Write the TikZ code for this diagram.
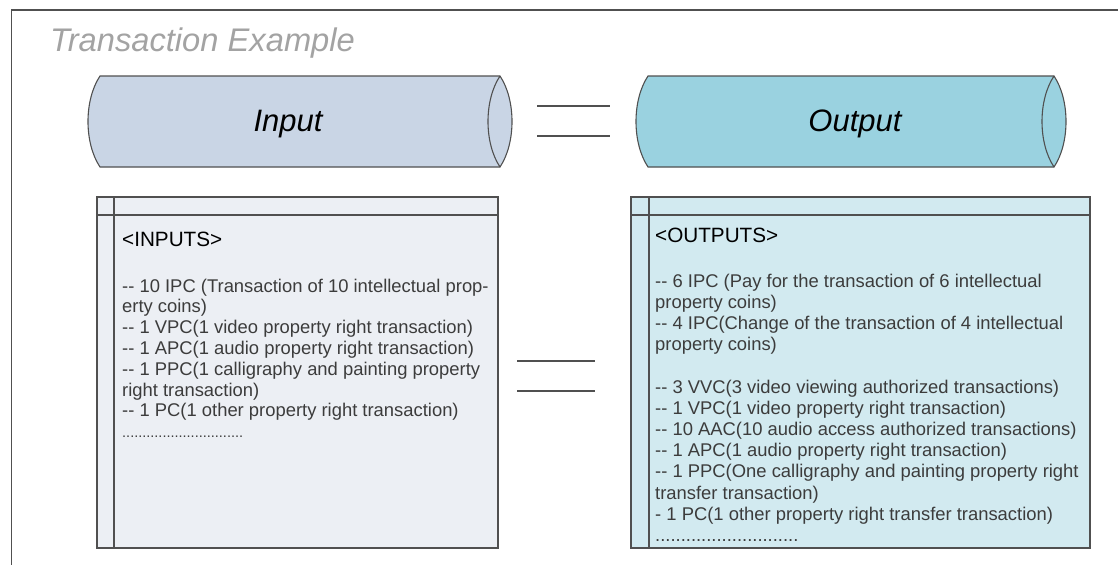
\documentclass[tikz,border=0pt]{standalone}
\usepackage{fontspec}
\setmainfont{Liberation Sans}
\usepackage{xcolor}
\usepackage{tikz}

\definecolor{framegray}{HTML}{505050}
\definecolor{titlegray}{HTML}{A3A3A3}
\definecolor{inpipe}{HTML}{C9D5E5}
\definecolor{outpipe}{HTML}{9AD2E0}
\definecolor{inbox}{HTML}{ECEFF4}
\definecolor{outbox}{HTML}{D2EAF0}
\definecolor{bodytext}{HTML}{3C3C3C}

% two hyphens kept apart (no en dash)
\newcommand\twohyph{-\kern0pt-}

\begin{document}
\begin{tikzpicture}[x=1pt, y=-1pt,
    edge/.style={draw=framegray, line width=1.1pt},
    eqline/.style={draw=framegray, line width=1.3pt},
    listhead/.style={anchor=base west, inner sep=0pt, font=\fontsize{20.7}{24}\selectfont},
    listtext/.style={anchor=north west, inner sep=0pt, align=left, text=bodytext}]

        \useasboundingbox (0,0) rectangle (1118,565);

        % Draw the outer frame (top and left edge)
        \draw[framegray, line width=1.3pt] (1118,10) -- (11.5,10) -- (11.5,565);

        % Add title
        \node[anchor=base west, inner sep=0pt, text=titlegray,
              font=\fontsize{32.7}{36}\selectfont\itshape] (title) at (50,51) {Transaction Example};

        % Draw the input pipe
        \draw[edge, fill=inpipe] (100,76) -- (500,76)
            .. controls (516,100) and (516,143) .. (500,167) -- (100,167)
            .. controls (84,143) and (84,100) .. cycle;
        \draw[edge] (500,76) .. controls (484,100) and (484,143) .. (500,167);
        \node[anchor=base, inner sep=0pt, font=\fontsize{31}{36}\selectfont\itshape] (input) at (288,131) {Input};

        % Draw the output pipe
        \draw[edge, fill=outpipe] (648,76) -- (1054,76)
            .. controls (1070,100) and (1070,143) .. (1054,167) -- (648,167)
            .. controls (632,143) and (632,100) .. cycle;
        \draw[edge] (1054,76) .. controls (1038,100) and (1038,143) .. (1054,167);
        \node[anchor=base, inner sep=0pt, font=\fontsize{31}{36}\selectfont\itshape] (output) at (855,131) {Output};

        % Add equal signs between the two sides
        \coordinate (eqa) at (537,106);
        \coordinate (eqb) at (610,106);
        \coordinate (eqc) at (537,136);
        \coordinate (eqd) at (610,136);
        \draw[eqline] (eqa) -- (eqb);
        \draw[eqline] (eqc) -- (eqd);
        \coordinate (eqe) at (517,361);
        \coordinate (eqf) at (595,361);
        \coordinate (eqg) at (517,391);
        \coordinate (eqh) at (595,391);
        \draw[eqline] (eqe) -- (eqf);
        \draw[eqline] (eqg) -- (eqh);

        % Draw the inputs list box
        \draw[edge, fill=inbox] (97,197) rectangle (498,548);
        \draw[edge] (97,215) -- (498,215);
        \draw[edge] (114,197) -- (114,548);
        \node[listhead] (inhead) at (122,246) {<INPUTS>};
        \node[listtext, font=\fontsize{18.4}{20.8}\selectfont] (inlist) at (122,278.5) {%
            \twohyph{} 10 IPC (Transaction of 10 intellectual prop-\\
            erty coins)\\
            \twohyph{} 1 VPC(1 video property right transaction)\\
            \twohyph{} 1 APC(1 audio property right transaction)\\
            \twohyph{} 1 PPC(1 calligraphy and painting property\\
            right transaction)\\
            \twohyph{} 1 PC(1 other property right transaction)\\
            {\fontsize{14.5}{20.8}\selectfont ..............................}};

        % Draw the outputs list box
        \draw[edge, fill=outbox] (631,197) rectangle (1090,548);
        \draw[edge] (631,215) -- (1090,215);
        \draw[edge] (649,197) -- (649,548);
        \node[listhead] (outhead) at (655,242) {<OUTPUTS>};
        \node[listtext, font=\fontsize{18.4}{21.2}\selectfont] (outlist) at (655,273.5) {%
            \twohyph{} 6 IPC (Pay for the transaction of 6 intellectual\\
            property coins)\\
            \twohyph{} 4 IPC(Change of the transaction of 4 intellectual\\
            property coins)\\[21.2pt]
            \twohyph{} 3 VVC(3 video viewing authorized transactions)\\
            \twohyph{} 1 VPC(1 video property right transaction)\\
            \twohyph{} 10 AAC(10 audio access authorized transactions)\\
            \twohyph{} 1 APC(1 audio property right transaction)\\
            \twohyph{} 1 PPC(One calligraphy and painting property right\\
            transfer transaction)\\
            - 1 PC(1 other property right transfer transaction)\\
            ............................};
\end{tikzpicture}
\end{document}
